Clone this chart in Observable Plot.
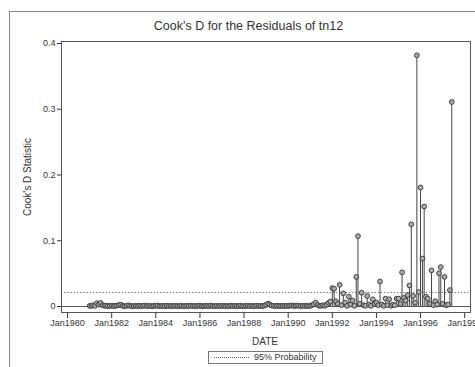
<!DOCTYPE html>
<html>
<head>
<meta charset="utf-8">
<script src="https://cdn.jsdelivr.net/npm/d3@7"></script>
<script src="https://cdn.jsdelivr.net/npm/@observablehq/plot@0.6"></script>
<style>
  html, body { margin: 0; padding: 0; background: #fff; }
  #wrap { position: relative; width: 475px; height: 367px; overflow: hidden;
          font-family: "Liberation Sans", Arial, sans-serif; color: #333; }
  #wrap svg { position: absolute; left: 0; top: 0; }
  .border { position: absolute; left: 9px; top: 11px; width: 480px; height: 400px;
            border-left: 1px solid #888; border-top: 1px solid #888; }
  .title { position: absolute; left: 0; width: 497px; top: 19px; text-align: center;
           font-size: 12.5px; }
  .ylab { position: absolute; left: 27px; top: 177px; font-size: 10px; white-space: nowrap;
          transform: translate(-50%, -50%) rotate(-90deg); }
  .xlab { position: absolute; left: 265px; top: 341px; font-size: 10px;
          transform: translate(-50%, -50%); }
  .legend { position: absolute; left: 208px; top: 351px; width: 113px; height: 11px;
            border: 1px solid #777; font-size: 9px; line-height: 11px; }
  .legend .swatch { position: absolute; left: 5px; top: 5px; width: 35px;
                    border-top: 1px dotted #666; }
  .legend .txt { position: absolute; left: 45px; top: 0; }
</style>
</head>
<body>
<div id="wrap">
  <div class="border"></div>
</div>
<script>
// Monthly Cook's D values, January 1981 onward
const firstYear = 1981;
const d1981 = [0.001, 0.0008, 0.002, 0.001, 0.005, 0.003, 0.0055, 0.002, 0.001, 0.0012, 0.0006, 0.001];
const d1982 = [0.0012, 0.0006, 0.001, 0.0015, 0.002, 0.0028, 0.001, 0.0005, 0.0009, 0.0018, 0.001, 0.0006];
const d1983 = [0.0008, 0.001, 0.0005, 0.0012, 0.0007, 0.0009, 0.0014, 0.0006, 0.0011, 0.0008, 0.0005, 0.001];
const d1984 = [0.0009, 0.0015, 0.0006, 0.0008, 0.001, 0.0005, 0.0012, 0.0007, 0.0009, 0.0006, 0.0011, 0.0008];
const d1985 = [0.0006, 0.0009, 0.0012, 0.0005, 0.0008, 0.001, 0.0007, 0.0013, 0.0006, 0.0009, 0.0005, 0.0011];
const d1986 = [0.001, 0.0007, 0.0005, 0.0012, 0.0009, 0.0006, 0.0015, 0.0008, 0.0005, 0.001, 0.0007, 0.0009];
const d1987 = [0.0008, 0.0011, 0.0006, 0.0009, 0.0005, 0.0013, 0.0007, 0.001, 0.0006, 0.0008, 0.0012, 0.0005];
const d1988 = [0.0007, 0.0009, 0.0012, 0.0006, 0.001, 0.0005, 0.0008, 0.0011, 0.0007, 0.0009, 0.0006, 0.0014];
const d1989 = [0.0025, 0.0042, 0.003, 0.0015, 0.001, 0.0008, 0.0012, 0.0006, 0.0009, 0.0011, 0.0007, 0.001];
const d1990 = [0.0008, 0.0012, 0.0018, 0.0006, 0.001, 0.0015, 0.0009, 0.0007, 0.0012, 0.0008, 0.0011, 0.0006];
const d1991 = [0.001, 0.0022, 0.0035, 0.006, 0.0025, 0.0009, 0.0012, 0.002, 0.001, 0.003, 0.0055, 0.0075];
const d1992 = [0.028, 0.027, 0.008, 0.004, 0.033, 0.002, 0.020, 0.006, 0.001, 0.015, 0.003, 0.009];
const d1993 = [0.001, 0.045, 0.107, 0.004, 0.021, 0.002, 0.001, 0.016, 0.003, 0.001, 0.011, 0.004];
const d1994 = [0.006, 0.002, 0.038, 0.003, 0.001, 0.012, 0.002, 0.011, 0.001, 0.003, 0.002, 0.012];
const d1995 = [0.012, 0.004, 0.052, 0.013, 0.009, 0.0175, 0.032, 0.125, 0.016, 0.006, 0.382, 0.022];
const d1996 = [0.181, 0.073, 0.152, 0.015, 0.012, 0.004, 0.055, 0.002, 0.008, 0.003, 0.0507, 0.060];
const d1997 = [0.004, 0.045, 0.002, 0.003, 0.025, 0.311];

// 95% probability cutoff
const cutoff = [0.0213];

const yTicks = [0, 0.1, 0.2, 0.3, 0.4];
const yTickLabels = ["0", "0.1", "0.2", "0.3", "0.4"];
const xTickYears = [1980, 1982, 1984, 1986, 1988, 1990, 1992, 1994, 1996, 1998];

const series = [d1981, d1982, d1983, d1984, d1985, d1986, d1987, d1988,
                d1989, d1990, d1991, d1992, d1993, d1994, d1995, d1996, d1997];
const rows = series.flatMap((vals, i) =>
  vals.map((d, m) => ({date: new Date(Date.UTC(firstYear + i, m, 1)), d})));

const chart = Plot.plot({
  width: 475,
  height: 367,
  marginLeft: 61,
  marginRight: 5,
  marginTop: 41,
  marginBottom: 55,
  style: {fontFamily: "Liberation Sans, Arial, sans-serif", fontSize: "9px", color: "#333", background: "transparent"},
  x: {
    type: "utc",
    domain: [new Date(Date.UTC(1979, 8, 23)), new Date(Date.UTC(1998, 3, 7))],
    ticks: xTickYears.map(y => new Date(Date.UTC(y, 0, 1))),
    tickFormat: d => "Jan" + d.getUTCFullYear(),
    tickSize: 6,
    tickPadding: 1,
    label: null
  },
  y: {
    domain: [-0.0091, 0.403],
    ticks: yTicks,
    tickFormat: d => yTickLabels[yTicks.indexOf(d)],
    tickSize: 4,
    tickPadding: 2,
    label: null
  },
  marks: [
    Plot.ruleY(cutoff, {stroke: "#666", strokeDasharray: "1.2,2"}),
    Plot.ruleY([0], {stroke: "#555"}),
    Plot.ruleX(rows, {x: "date", y1: 0, y2: "d", stroke: "#444", strokeWidth: 1}),
    Plot.dot(rows, {x: "date", y: "d", r: 2.4, fill: "#aaa", stroke: "#333", strokeWidth: 0.9}),
    Plot.frame({stroke: "#555"})
  ]
});

const wrap = document.getElementById("wrap");
wrap.appendChild(chart);

const addDiv = (cls, html) => {
  const el = document.createElement("div");
  el.className = cls;
  el.innerHTML = html;
  wrap.appendChild(el);
  return el;
};
addDiv("title", "Cook's D for the Residuals of tn12");
addDiv("ylab", "Cook's D Statistic");
addDiv("xlab", "DATE");
addDiv("legend", '<span class="swatch"></span><span class="txt">95% Probability</span>');
</script>
</body>
</html>
